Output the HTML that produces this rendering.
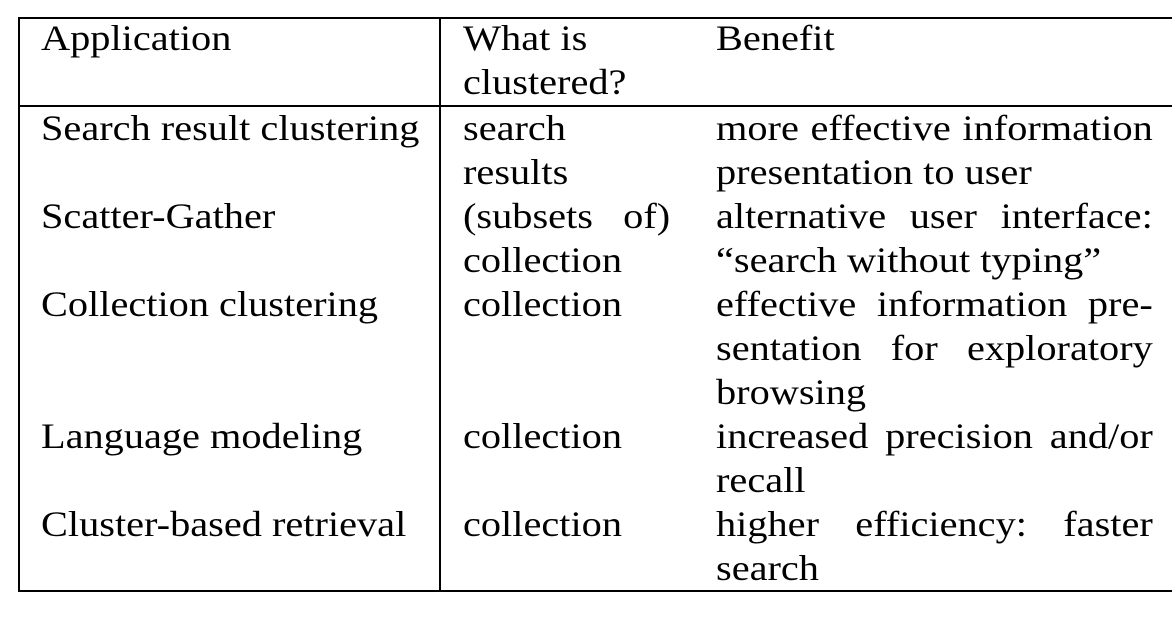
<!DOCTYPE html>
<html><head><meta charset="utf-8"><style>
body{margin:0;width:1172px;height:618px;background:#fff;position:relative;overflow:hidden;font-family:"Liberation Serif",serif;font-size:36px;color:#000}
.h{position:absolute;background:#000}
.c{position:absolute;line-height:44px;white-space:nowrap;transform:scaleX(1.12);transform-origin:0 0}
.c div{height:44px}
.j{text-align:justify;text-align-last:justify;white-space:normal}
</style></head><body>
<div class="h" style="left:19px;top:17px;width:1153px;height:2px"></div>
<div class="h" style="left:19px;top:105px;width:1153px;height:2px"></div>
<div class="h" style="left:19px;top:590px;width:1153px;height:2px"></div>
<div class="h" style="left:18px;top:17px;width:2px;height:575px"></div>
<div class="h" style="left:439px;top:17px;width:2px;height:575px"></div>

<div class="c" style="left:41px;top:16px"><div>Application</div></div>
<div class="c" style="left:463px;top:16px"><div>What is</div><div>clustered?</div></div>
<div class="c" style="left:716px;top:16px"><div>Benefit</div></div>

<div class="c" style="left:41px;top:106px;width:340px">
<div>Search result clustering</div><div></div>
<div>Scatter-Gather</div><div></div>
<div>Collection clustering</div><div></div><div></div>
<div>Language modeling</div><div></div>
<div>Cluster-based retrieval</div>
</div>
<div class="c" style="left:463px;top:106px;width:185px">
<div>search</div><div>results</div>
<div class="j">(subsets of)</div><div>collection</div>
<div>collection</div><div></div><div></div>
<div>collection</div><div></div>
<div>collection</div>
</div>
<div class="c" style="left:716px;top:106px;width:390px">
<div class="j">more effective information</div><div>presentation to user</div>
<div class="j">alternative user interface:</div><div>“search without typing”</div>
<div class="j">effective information pre-</div><div class="j">sentation for exploratory</div><div>browsing</div>
<div class="j">increased precision and/or</div><div>recall</div>
<div class="j">higher efficiency: faster</div><div>search</div>
</div>
</body></html>
